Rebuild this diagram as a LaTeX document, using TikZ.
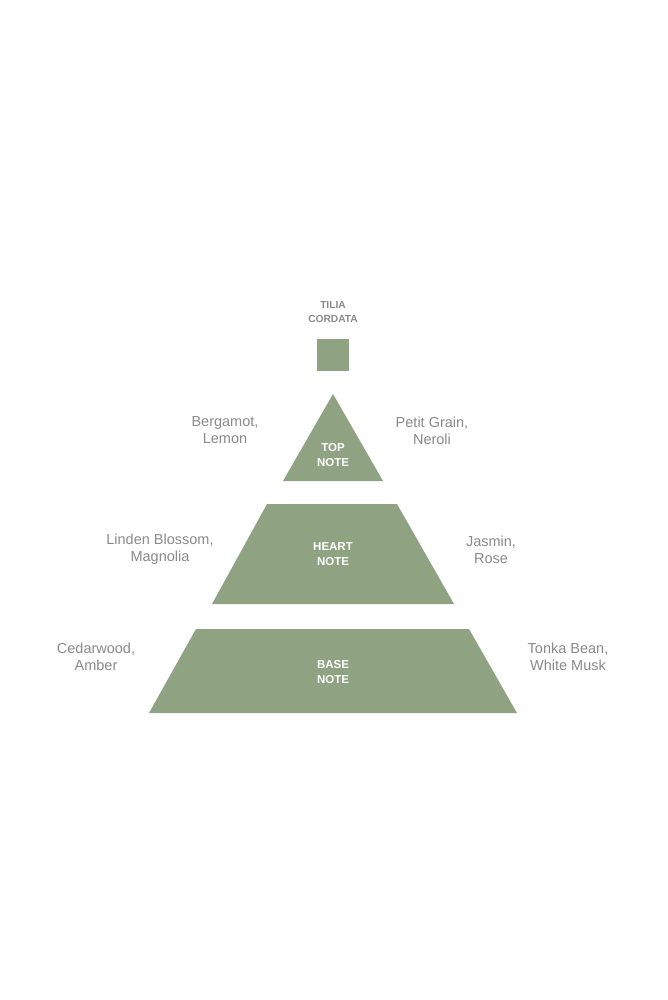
\documentclass[tikz,border=0pt]{standalone}
\usepackage{fontspec}
\setmainfont{Liberation Sans}
\definecolor{leaf}{RGB}{143,162,130}
\definecolor{txt}{RGB}{138,138,138}
\begin{document}
\begin{tikzpicture}[x=1pt,y=-1pt,
  side/.style={text=txt,font=\fontsize{14.5}{17}\selectfont,align=center,inner sep=0pt},
  inner/.style={text=white,font=\bfseries\fontsize{11.5}{15}\selectfont,align=center,inner sep=0pt},
  title/.style={text=txt,font=\bfseries\fontsize{10.2}{14}\selectfont,align=center,inner sep=0pt}]
\useasboundingbox[fill=white] (0,0) rectangle (667,1000);
% shapes
\fill[leaf] (317,339) rectangle (349,371);
\fill[leaf] (333,394) -- (383,481) -- (283,481) -- cycle;
\fill[leaf] (267,504) -- (397,504) -- (454,604) -- (212,604) -- cycle;
\fill[leaf] (196,629) -- (469,629) -- (517,713) -- (149,713) -- cycle;
% labels
\node[title] (tilia) at (333,312.5) {TILIA\\CORDATA};
\node[inner] (top) at (333,455.5) {TOP\\NOTE};
\node[inner] (heart) at (333,554.5) {HEART\\NOTE};
\node[inner] (base) at (333,672.5) {BASE\\NOTE};
\node[side] (berg) at (225,430.5) {Bergamot,\\Lemon};
\node[side] (petit) at (432,430.5) {Petit Grain,\\Neroli};
\node[side] (linden) at (160,549.5) {Linden Blossom,\\Magnolia};
\node[side] (jasmin) at (491,549.5) {Jasmin,\\Rose};
\node[side] (cedar) at (96,656.5) {Cedarwood,\\Amber};
\node[side] (tonka) at (568,656.5) {Tonka Bean,\\White Musk};
\end{tikzpicture}
\end{document}
